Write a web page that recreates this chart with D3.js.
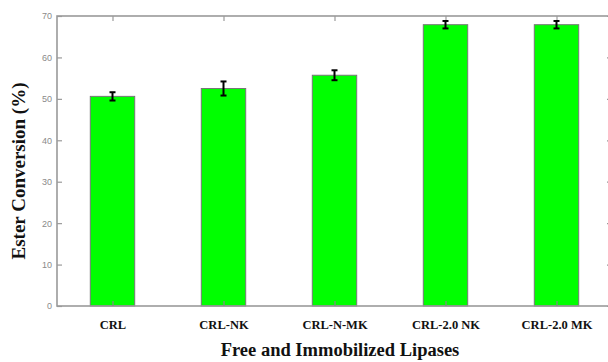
<!DOCTYPE html>
<html><head><meta charset="utf-8">
<script src="https://cdn.jsdelivr.net/npm/d3@7"></script>
<style>body{margin:0;background:#fff}svg{display:block}</style>
</head><body>
<script>
const categories = ["CRL", "CRL-NK", "CRL-N-MK", "CRL-2.0 NK", "CRL-2.0 MK"];
const values = [50.6, 52.5, 55.7, 67.9, 67.9];
const errors = [1.0, 1.7, 1.2, 0.9, 0.9];
const yTicks = [0, 10, 20, 30, 40, 50, 60, 70];

(function () {
const W = 608, H = 362;
const pL = 57, pR = 612, pT = 16, pB = 306;
const svg = d3.select("body").append("svg").attr("width", W).attr("height", H);

const x = d3.scaleLinear().domain([0.5, categories.length + 0.5]).range([pL, pR]);
const y = d3.scaleLinear().domain([0, 70]).range([pB, pT]);
const bw = (x(1) - x(0)) * 0.4;

// bars
svg.append("g").selectAll("rect").data(values).join("rect")
  .attr("x", (d, i) => x(i + 1) - bw / 2)
  .attr("y", d => y(d))
  .attr("width", bw)
  .attr("height", d => y(0) - y(d))
  .attr("fill", "#00ff00")
  .attr("stroke", "#777")
  .attr("stroke-width", 1);

// frame
const frameColor = "#9a9a9a";
svg.append("rect").attr("x", pL).attr("y", pT).attr("width", pR - pL).attr("height", pB - pT)
  .attr("fill", "none").attr("stroke", frameColor).attr("stroke-width", 1.6);

// axes
const axL = svg.append("g").attr("transform", `translate(${pL},0)`)
  .call(d3.axisLeft(y).tickValues(yTicks).tickSize(-5).tickPadding(5).tickFormat(d3.format("d")));
const axR = svg.append("g").attr("transform", `translate(${pR},0)`)
  .call(d3.axisRight(y).tickValues(yTicks).tickSize(-5).tickFormat(""));
const axB = svg.append("g").attr("transform", `translate(0,${pB})`)
  .call(d3.axisBottom(x).tickValues(d3.range(1, categories.length + 1)).tickSize(-5).tickPadding(14)
    .tickFormat((d) => categories[d - 1]));
const axT = svg.append("g").attr("transform", `translate(0,${pT})`)
  .call(d3.axisTop(x).tickValues(d3.range(1, categories.length + 1)).tickSize(-5).tickFormat(""));
[axL, axR, axB, axT].forEach(a => {
  a.select(".domain").remove();
  a.selectAll(".tick line").attr("stroke", frameColor).attr("stroke-width", 1.2);
});
axB.selectAll(".tick line").attr("stroke", "#888");
axL.selectAll("text").attr("fill", "#8a8a8a").attr("font-family", "Liberation Sans Narrow, Liberation Sans, sans-serif")
  .attr("font-size", 9);
axB.selectAll("text").attr("fill", "#111").attr("font-family", "Liberation Serif, serif")
  .attr("font-weight", "bold").attr("font-size", 12.5);

// error bars
const eb = svg.append("g").attr("stroke", "#000").attr("stroke-width", 2);
values.forEach((v, i) => {
  const cx = x(i + 1);
  eb.append("line").attr("x1", cx).attr("x2", cx).attr("y1", y(v - errors[i])).attr("y2", y(v + errors[i]));
  eb.append("line").attr("x1", cx - 3).attr("x2", cx + 3).attr("y1", y(v - errors[i])).attr("y2", y(v - errors[i]));
  eb.append("line").attr("x1", cx - 3).attr("x2", cx + 3).attr("y1", y(v + errors[i])).attr("y2", y(v + errors[i]));
});

// titles
svg.append("text").attr("x", 340).attr("y", 356).attr("text-anchor", "middle")
  .attr("font-family", "Liberation Serif, serif").attr("font-weight", "bold").attr("font-size", 18.5)
  .attr("fill", "#111").text("Free and Immobilized Lipases");
svg.append("text").attr("transform", "translate(25,171) rotate(-90)").attr("text-anchor", "middle")
  .attr("font-family", "Liberation Serif, serif").attr("font-weight", "bold").attr("font-size", 19)
  .attr("fill", "#111").text("Ester Conversion (%)");
})();
</script>
</body></html>
